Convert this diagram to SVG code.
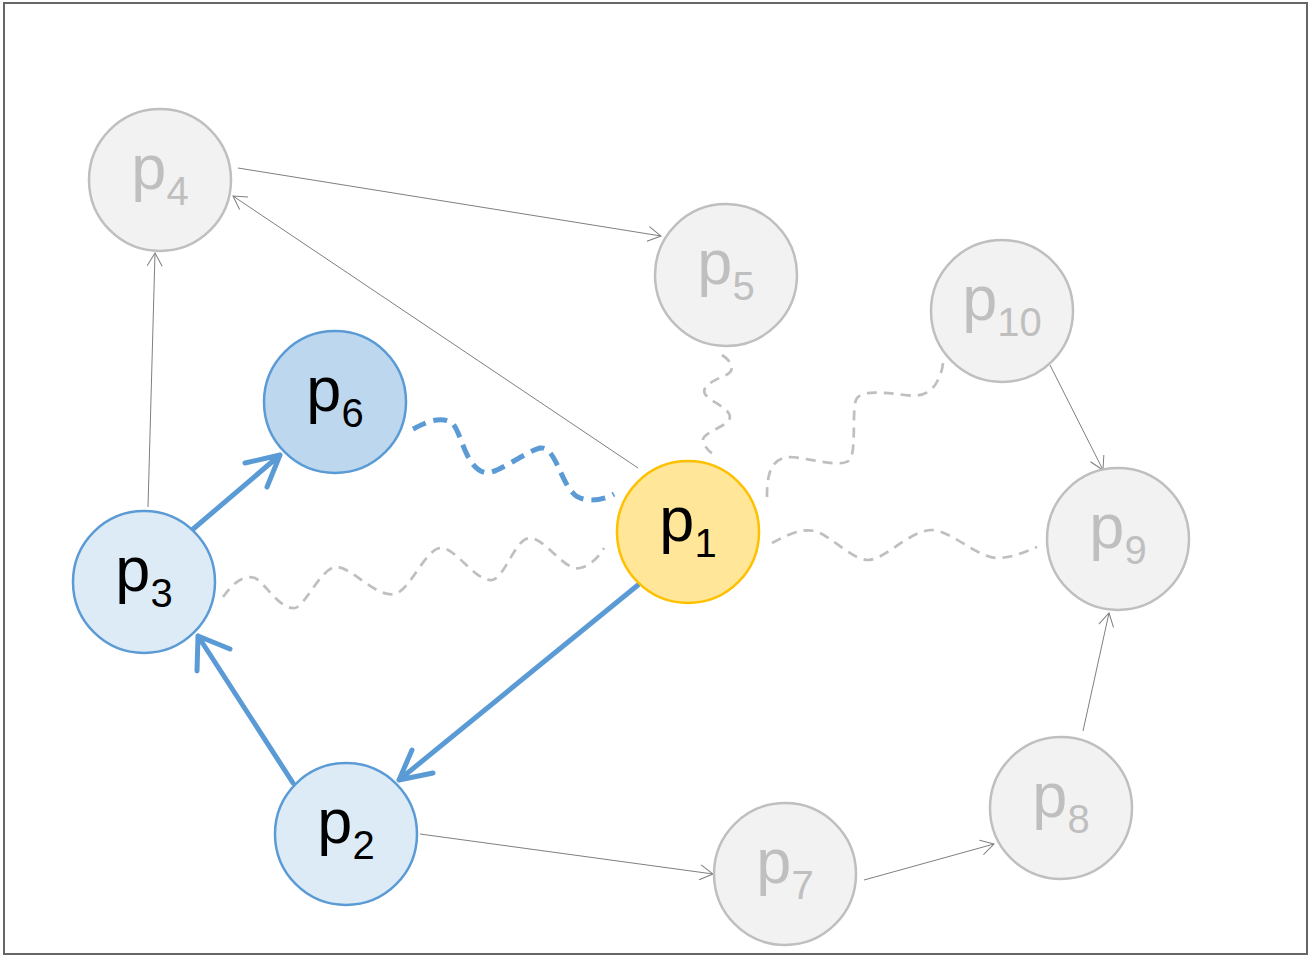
<svg xmlns="http://www.w3.org/2000/svg" width="1310" height="957" viewBox="0 0 1310 957">
<style>
.n circle{stroke-width:2.5}
.gray circle{fill:#F2F2F2;stroke:#BFBFBF}
.gray text{fill:#BFBFBF}
.lab{font-family:"Liberation Sans",Arial,sans-serif;font-size:63px;text-anchor:middle}
.sub{font-size:40px}
.thin{stroke:#7F7F7F;stroke-width:1;fill:none;marker-end:url(#ah)}
.thick{stroke:#5B9BD5;stroke-width:5;fill:none;stroke-linecap:round;stroke-linejoin:round}
.wg{stroke:#BFBFBF;stroke-width:2.7;fill:none;stroke-dasharray:10 7}
.wb{stroke:#5B9BD5;stroke-width:5;fill:none;stroke-dasharray:14 8}
</style>
<defs>
<marker id="ah" markerUnits="userSpaceOnUse" markerWidth="16" markerHeight="18" refX="14" refY="9" orient="auto">
<path d="M1,1.5 L14,9 L1,16.5" fill="none" stroke="#7F7F7F" stroke-width="1"/>
</marker>
</defs>
<rect x="4" y="3" width="1303" height="951" fill="#FFFFFF" stroke="#666666" stroke-width="2"/>
<g id="connectors">
<line class="thin" x1="238" y1="168" x2="661" y2="236"/>
<line class="thin" x1="638" y1="468" x2="233" y2="196"/>
<line class="thin" x1="148" y1="507" x2="155" y2="253"/>
<line class="thin" x1="1050" y1="365" x2="1103" y2="470"/>
<line class="thin" x1="420" y1="834" x2="713" y2="874"/>
<line class="thin" x1="864" y1="880" x2="994" y2="844"/>
<line class="thin" x1="1083" y1="731" x2="1109" y2="613"/>
<path class="wb" d="M413,429 C425,423 440,415 452,423 C462,432 465,470 487,473 C500,472 525,452 540,448 C555,446 560,480 573,493 C580,502 600,502 614,494"/>
<path class="wg" d="M223,597 C232,585 242,574 255,578 C265,583 280,610 295,608 C305,606 320,570 335,567 C350,565 375,598 395,594 C410,590 425,550 440,548 C455,546 475,582 492,580 C505,578 515,538 530,538 C545,538 565,572 580,568 C592,565 600,555 604,548"/>
<path class="wg" d="M772,543 C785,536 800,528 815,531 C830,535 852,560 868,560 C885,560 910,530 932,530 C950,530 978,558 997,558 C1012,558 1025,552 1037,547"/>
<path class="wg" d="M722,355 C730,360 736,368 728,374 C720,378 700,385 705,394 C710,402 735,410 729,420 C724,428 700,433 703,442 C705,447 710,452 712,453"/>
<path class="wg" d="M767,497 C767,480 768,458 790,457 C810,458 845,470 851,458 C856,445 852,410 856,400 C860,390 880,392 905,395 C925,398 933,390 938,380 C942,372 943,365 943,362"/>
<path class="thick" d="M192,530 L280,455 M245,463 L280,455 L267,487"/>
<path class="thick" d="M638,585 L399,780 M412,750 L399,780 L433,773"/>
<path class="thick" d="M293,783 L198,636 M197,671 L198,636 L230,649"/>
</g>
<g id="p4" class="n gray"><circle cx="160" cy="180" r="71"/><text class="lab" x="160" y="189">p<tspan class="sub" dy="16">4</tspan></text></g>
<g id="p5" class="n gray"><circle cx="726" cy="275" r="71"/><text class="lab" x="726" y="284">p<tspan class="sub" dy="16">5</tspan></text></g>
<g id="p10" class="n gray"><circle cx="1002" cy="311" r="71"/><text class="lab" x="1002" y="320">p<tspan class="sub" dy="16">10</tspan></text></g>
<g id="p6" class="n"><circle cx="335" cy="402" r="71" fill="#BDD7EE" stroke="#5B9BD5"/><text class="lab" x="335" y="411" fill="#000">p<tspan class="sub" dy="16">6</tspan></text></g>
<g id="p1" class="n"><circle cx="688" cy="532" r="71" fill="#FFE699" stroke="#FFC000"/><text class="lab" x="688" y="541" fill="#000">p<tspan class="sub" dy="16">1</tspan></text></g>
<g id="p9" class="n gray"><circle cx="1118" cy="539" r="71"/><text class="lab" x="1118" y="548">p<tspan class="sub" dy="16">9</tspan></text></g>
<g id="p3" class="n"><circle cx="144" cy="582" r="71" fill="#DDEBF7" stroke="#5B9BD5"/><text class="lab" x="144" y="591" fill="#000">p<tspan class="sub" dy="16">3</tspan></text></g>
<g id="p2" class="n"><circle cx="346" cy="834" r="71" fill="#DDEBF7" stroke="#5B9BD5"/><text class="lab" x="346" y="843" fill="#000">p<tspan class="sub" dy="16">2</tspan></text></g>
<g id="p7" class="n gray"><circle cx="785" cy="874" r="71"/><text class="lab" x="785" y="883">p<tspan class="sub" dy="16">7</tspan></text></g>
<g id="p8" class="n gray"><circle cx="1061" cy="808" r="71"/><text class="lab" x="1061" y="817">p<tspan class="sub" dy="16">8</tspan></text></g>
</svg>
